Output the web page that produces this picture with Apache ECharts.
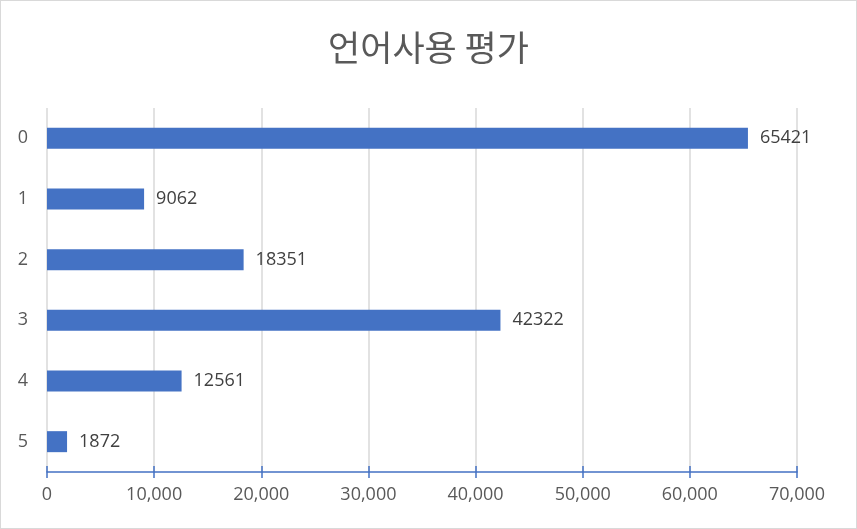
<!DOCTYPE html>
<html><head><meta charset="utf-8">
<script src="https://cdn.jsdelivr.net/npm/echarts@6/dist/echarts.min.js"></script>
<style>
html,body{margin:0;padding:0;background:#fff;}
#c{width:855px;height:527px;border:1px solid #d9d9d9;}
</style></head>
<body><div id="c"></div>
<script>
const title = '언어사용 평가';
const categories = ['0','1','2','3','4','5'];
const values = [65421, 9062, 18351, 42322, 12561, 1872];
const xTicks = [0, 10000, 20000, 30000, 40000, 50000, 60000, 70000];

const chart = echarts.init(document.getElementById('c'));
const fmt = v => v.toLocaleString('en-US');
chart.setOption({
  animation: false,
  title: {text: title, left: 'center', top: 24,
    textStyle: {fontFamily: 'Noto Sans CJK KR', fontSize: 35, fontWeight: 'normal', color: '#595959'}},
  grid: {left: 46, right: 59, top: 107, bottom: 56},
  xAxis: [{
    type: 'value', min: xTicks[0], max: xTicks[xTicks.length-1], interval: 10000,
    axisLine: {show: true, lineStyle: {color: '#4472C4', width: 1.5}},
    axisTick: {show: true, length: 6, lineStyle: {color: '#4472C4', width: 1.5}},
    axisLabel: {formatter: fmt, color: '#595959', fontSize: 18, fontFamily: 'Open Sans', margin: 14},
    splitLine: {show: true, lineStyle: {color: '#d9d9d9', width: 1.5}}
  },{
    type: 'value', position: 'bottom', min: xTicks[0], max: xTicks[xTicks.length-1], interval: 10000,
    axisLine: {show: false},
    axisTick: {show: true, inside: true, length: 6, lineStyle: {color: '#4472C4', width: 1.5}},
    axisLabel: {show: false}, splitLine: {show: false}
  }],
  yAxis: {
    type: 'category', data: categories, inverse: true,
    axisLine: {show: false}, axisTick: {show: false},
    axisLabel: {color: '#595959', fontSize: 18, fontFamily: 'Open Sans', margin: 19}
  },
  series: [{
    type: 'bar', data: values, barWidth: 21, xAxisIndex: 0,
    itemStyle: {color: '#4472C4'},
    label: {show: true, position: 'right', distance: 12, color: '#404040', fontSize: 18, fontFamily: 'Open Sans'}
  }]
});
</script></body></html>
